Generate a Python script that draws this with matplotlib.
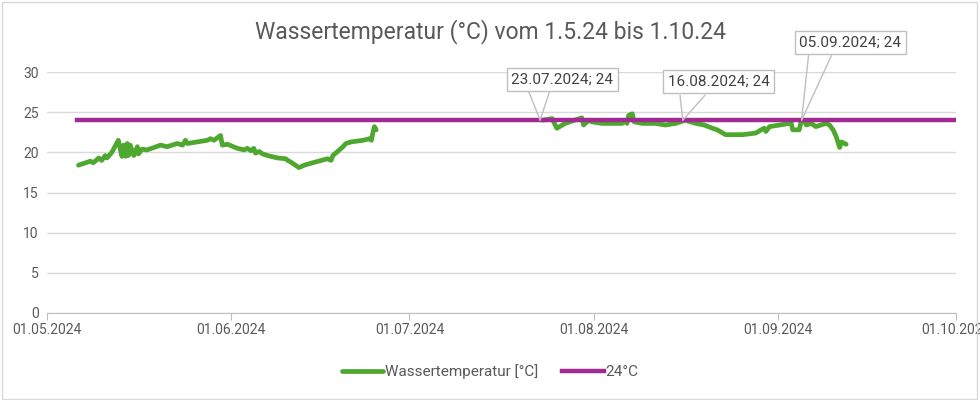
import numpy as np
import pandas as pd
import matplotlib
matplotlib.use("Agg")
import matplotlib.pyplot as plt
import matplotlib.dates as mdates
from matplotlib.patches import Rectangle


# Messwerte: Tage seit 01.05.2024 und Temperatur, NaN = Messluecke
start = pd.Timestamp("2024-05-01")
tage = [5.3, 7.3, 7.8, 8.7, 9.2, 9.8, 10.1, 10.9, 12.0, 12.6, 12.9, 13.2, 13.5, 13.7,
        14.0, 14.6, 15.2, 15.4, 16.0, 16.8, 18.0, 19.1, 20.2, 21.9, 22.8, 23.3, 23.6,
        25.3, 27.0, 27.5, 28.1, 29.2, 29.5, 30.4, 32.0, 33.2, 33.7, 34.3, 34.8, 35.1,
        35.7, 36.3, 37.1, 38.8, 40.2, 40.5, 41.0, 42.4, 43.3, 44.7, 47.2, 47.8, 48.1,
        48.9, 49.8, 50.3, 51.2, 53.2, 54.3, 54.6, 54.8, 55.1, 55.4,
        69.0,
        83.4, 85.0, 85.8, 87.2, 90.0, 90.3, 91.2, 91.7, 93.4, 94.5, 96.8, 97.4, 97.6,
        97.9, 98.5, 98.8, 100.2, 102.4, 104.1, 105.8, 107.4, 109.2, 110.6, 112.0, 112.8,
        114.2, 117.1, 119.3, 120.2, 120.7, 121.0, 121.6, 123.3, 125.0, 125.2, 125.5,
        126.6, 126.9, 127.4, 127.8, 128.6, 129.4, 131.1, 131.7, 132.3, 132.8, 133.4,
        133.7, 134.5]
temp = [18.4, 18.9, 18.7, 19.3, 19.0, 19.6, 19.3, 20.0, 21.5, 19.5, 20.9, 19.5, 21.1, 19.6,
        20.9, 19.6, 20.7, 19.8, 20.4, 20.3, 20.6, 20.9, 20.7, 21.1, 20.9, 21.5, 21.1,
        21.3, 21.5, 21.7, 21.5, 22.1, 20.9, 21.0, 20.5, 20.3, 20.5, 20.2, 20.5, 19.9,
        20.1, 19.8, 19.6, 19.3, 19.2, 19.0, 18.8, 18.1, 18.4, 18.7, 19.2, 19.0, 19.6,
        20.1, 20.7, 21.1, 21.3, 21.5, 21.7, 21.5, 22.3, 23.2, 22.8,
        np.nan,
        24.0, 24.2, 23.0, 23.6, 24.3, 23.4, 24.0, 23.8, 23.6, 23.6, 23.6, 24.0, 23.6,
        24.6, 24.8, 23.8, 23.6, 23.6, 23.4, 23.6, 24.0, 23.6, 23.4, 23.0, 22.8,
        22.2, 22.2, 22.4, 22.8, 23.0, 22.6, 23.2, 23.4, 23.6, 23.8, 22.8,
        22.8, 23.8, 24.0, 23.4, 23.6, 23.2, 23.6, 23.4, 22.8, 22.0, 20.6,
        21.3, 21.0]

# Grenzwert 24 Grad
grenze_daten = ["2024-05-06", "2024-10-01"]
grenze_werte = [24, 24]

# Beschriftete Punkte
callout_daten = ["2024-07-23", "2024-08-16", "2024-09-05"]
callout_werte = [24, 24, 24]

datum = start + pd.to_timedelta(tage, unit="D")

plt.rcParams['font.family'] = ['Roboto', 'DejaVu Sans']
grau = '#595959'
rand = '#bfbfbf'

fig = plt.figure(figsize=(9.8, 4.0), dpi=100)
ax = fig.add_axes([0.048, 0.2175, 0.9276, 0.6025])

ax.plot(datum, temp, color='#4ea72e', lw=3.4, solid_joinstyle='round',
        solid_capstyle='round', label='Wassertemperatur [°C]', zorder=3)
ax.plot(pd.to_datetime(grenze_daten), grenze_werte, color='#a02b93', lw=3.2,
        label='24°C', zorder=4)

ax.set_xlim(pd.Timestamp("2024-05-01"), pd.Timestamp("2024-10-01"))
ax.set_ylim(0, 30)
ax.set_yticks(np.arange(0, 31, 5))
ax.xaxis.set_major_locator(mdates.MonthLocator())
ax.xaxis.set_major_formatter(mdates.DateFormatter('%d.%m.%Y'))

ax.grid(axis='y', color='#d9d9d9', lw=1)
ax.set_axisbelow(True)
for s in ['top', 'right', 'left']:
    ax.spines[s].set_visible(False)
ax.spines['bottom'].set_color(rand)
ax.tick_params(axis='y', length=0, labelsize=10, colors=grau, pad=6)
ax.tick_params(axis='x', length=5, color=rand, labelsize=10, labelcolor=grau, pad=2)

# Callouts: Box-Mitte und Fusspunkte der Zeigerlinien (in pt relativ zum Punkt)
box_mitte = [(16, 29.5), (26, 27.7), (35, 55.8)]
zeiger_fuss = [((-8, 20), (6.5, 20)), ((-2, 18), (16, 18)), ((5, 46.8), (21.6, 46.8))]
for d, w, mitte, fuss in zip(callout_daten, callout_werte, box_mitte, zeiger_fuss):
    punkt = (pd.Timestamp(d), w)
    text = pd.Timestamp(d).strftime('%d.%m.%Y') + '; ' + str(w)
    ax.annotate(text, xy=punkt, xytext=mitte, textcoords='offset points',
                ha='center', va='center', fontsize=11, color='#404040',
                bbox=dict(boxstyle='square,pad=0.3', fc='white', ec=rand, lw=1),
                annotation_clip=False, zorder=6)
    for f in fuss:
        ax.annotate('', xy=punkt, xytext=f, textcoords='offset points',
                    arrowprops=dict(arrowstyle='-', color=rand, lw=1,
                                    shrinkA=0, shrinkB=0),
                    annotation_clip=False, zorder=5)

fig.text(0.5, 0.92, 'Wassertemperatur (°C) vom 1.5.24 bis 1.10.24', ha='center',
         va='center', fontsize=16.5, color=grau)

fig.legend(loc='center', bbox_to_anchor=(0.5, 0.07), ncol=2, frameon=False,
           fontsize=11, handlelength=2.7, handletextpad=0.1, columnspacing=1.6,
           labelcolor=grau)

fig.patches.append(Rectangle((0.002, 0.003), 0.995, 0.993, transform=fig.transFigure,
                             fill=False, ec='#d9d9d9', lw=1))

fig.savefig('out.png', dpi=100)
